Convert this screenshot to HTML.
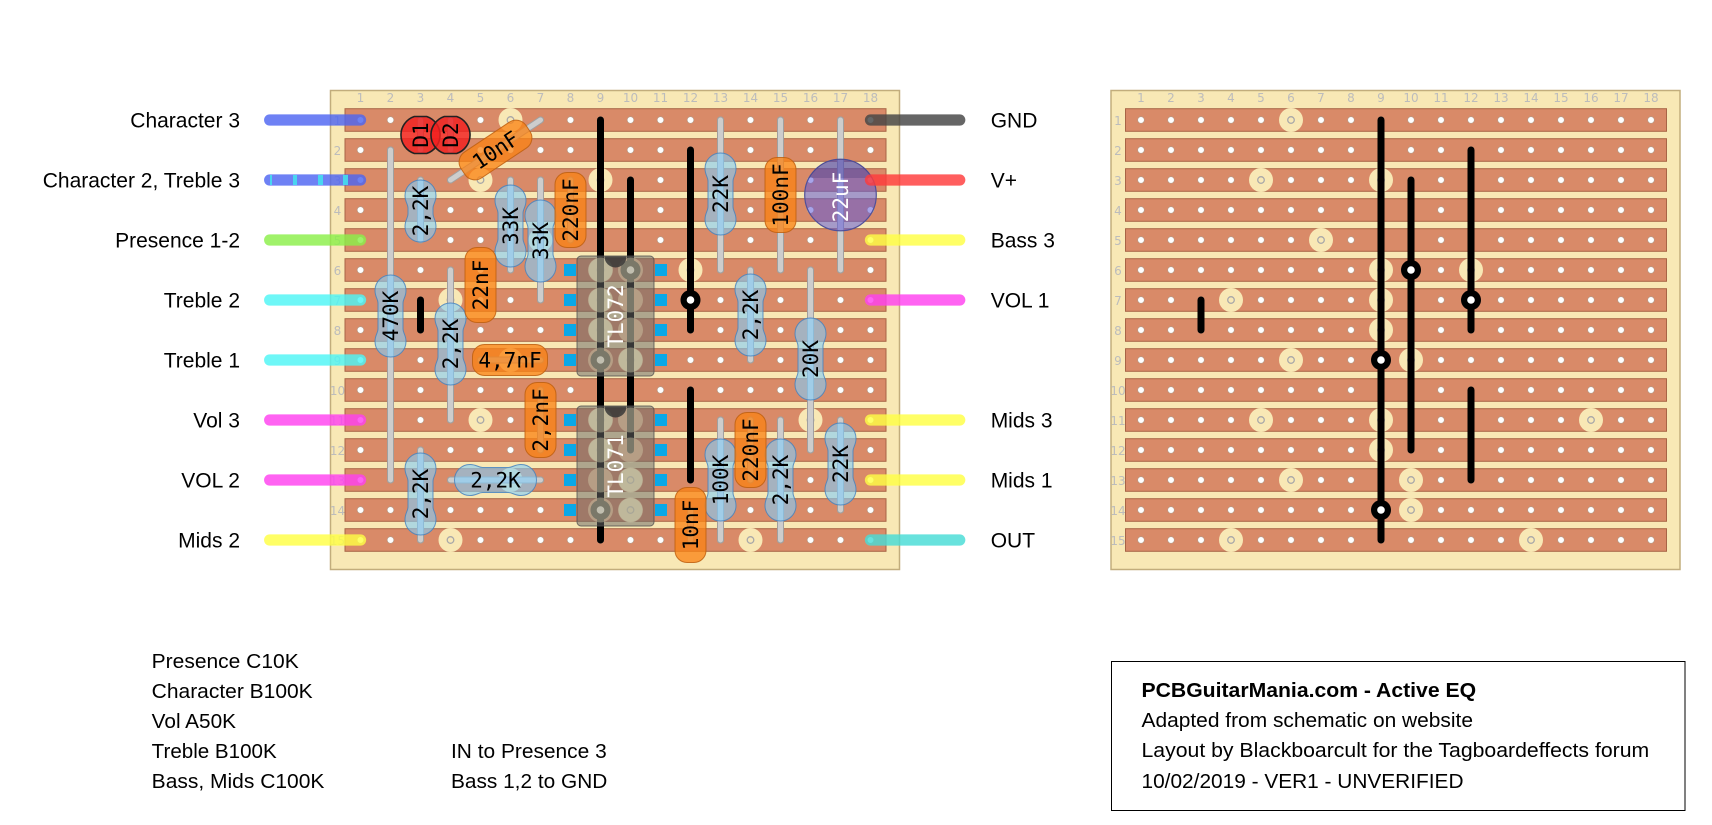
<!DOCTYPE html>
<html><head><meta charset="utf-8"><style>
html,body{margin:0;padding:0;background:#fff;}
svg{display:block;}
.cn{font-family:"DejaVu Sans",sans-serif;font-size:12px;fill:#bcbcbc;text-anchor:middle;}
.lb{font-family:"Liberation Sans",Arial,sans-serif;font-size:21px;fill:#000;}
.bt{font-family:"Liberation Sans",Arial,sans-serif;font-size:20px;fill:#000;}
.ct{font-family:"DejaVu Sans Mono",monospace;font-size:21px;fill:#000;text-anchor:middle;}
.wt{font-family:"DejaVu Sans Mono",monospace;font-size:21px;fill:#fff;text-anchor:middle;}
</style></head><body>
<svg width="1712" height="825" viewBox="0 0 1712 825" xmlns="http://www.w3.org/2000/svg">
<defs>
<pattern id="hp" x="345.5" y="105" width="30" height="30" patternUnits="userSpaceOnUse"><circle cx="15" cy="15" r="3.3" fill="#fff" stroke="#b09a88" stroke-width="0.6"/></pattern>
<path id="r41" fill="rgba(130,205,250,0.6)" stroke="rgba(70,130,190,0.85)" stroke-width="1" d="M0,-41 A15.5,15.5 0 0 1 15.5,-25.5 C15.5,-19 12.5,-17 12.5,-13 L12.5,13 C12.5,17 15.5,19 15.5,25.5 A15.5,15.5 0 0 1 -15.5,25.5 C-15.5,19 -12.5,17 -12.5,13 L-12.5,-13 C-12.5,-17 -15.5,-19 -15.5,-25.5 A15.5,15.5 0 0 1 0,-41 Z"/>
<path id="r31" fill="rgba(130,205,250,0.6)" stroke="rgba(70,130,190,0.85)" stroke-width="1" d="M0,-31 A15.5,15.5 0 0 1 15.5,-15.5 C15.5,-9 12.5,-7 12.5,-3 L12.5,3 C12.5,7 15.5,9 15.5,15.5 A15.5,15.5 0 0 1 -15.5,15.5 C-15.5,9 -12.5,7 -12.5,3 L-12.5,-3 C-12.5,-7 -15.5,-9 -15.5,-15.5 A15.5,15.5 0 0 1 0,-31 Z"/>
<path id="dio" fill="rgba(242,30,30,0.82)" stroke="#222" stroke-width="1.6" d="M-6.2,-18.5 L6.2,-18.5 A19.5,19.5 0 0 1 6.2,18.5 L-6.2,18.5 A19.5,19.5 0 0 1 -6.2,-18.5Z"/>
<clipPath id="ecl"><circle cx="840.5" cy="195" r="35.8"/></clipPath>
</defs>

<g id="base">
<rect x="330.5" y="90.5" width="569" height="479" fill="#f8e8b5" stroke="#c2ad7c" stroke-width="1.5"/>
<g class="cn">
<text x="360.5" y="102">1</text><text x="390.5" y="102">2</text><text x="420.5" y="102">3</text><text x="450.5" y="102">4</text><text x="480.5" y="102">5</text><text x="510.5" y="102">6</text><text x="540.5" y="102">7</text><text x="570.5" y="102">8</text><text x="600.5" y="102">9</text><text x="630.5" y="102">10</text><text x="660.5" y="102">11</text><text x="690.5" y="102">12</text><text x="720.5" y="102">13</text><text x="750.5" y="102">14</text><text x="780.5" y="102">15</text><text x="810.5" y="102">16</text><text x="840.5" y="102">17</text><text x="870.5" y="102">18</text>
<text x="337.5" y="125">1</text><text x="337.5" y="155">2</text><text x="337.5" y="185">3</text><text x="337.5" y="215">4</text><text x="337.5" y="245">5</text><text x="337.5" y="275">6</text><text x="337.5" y="305">7</text><text x="337.5" y="335">8</text><text x="337.5" y="365">9</text><text x="337.5" y="395">10</text><text x="337.5" y="425">11</text><text x="337.5" y="455">12</text><text x="337.5" y="485">13</text><text x="337.5" y="515">14</text><text x="337.5" y="545">15</text>
</g>
<g fill="#d98a68" stroke="#a86446" stroke-width="1">
<rect x="345" y="108.7" width="541" height="22.6"/><rect x="345" y="138.7" width="541" height="22.6"/><rect x="345" y="168.7" width="541" height="22.6"/><rect x="345" y="198.7" width="541" height="22.6"/><rect x="345" y="228.7" width="541" height="22.6"/><rect x="345" y="258.7" width="541" height="22.6"/><rect x="345" y="288.7" width="541" height="22.6"/><rect x="345" y="318.7" width="541" height="22.6"/><rect x="345" y="348.7" width="541" height="22.6"/><rect x="345" y="378.7" width="541" height="22.6"/><rect x="345" y="408.7" width="541" height="22.6"/><rect x="345" y="438.7" width="541" height="22.6"/><rect x="345" y="468.7" width="541" height="22.6"/><rect x="345" y="498.7" width="541" height="22.6"/><rect x="345" y="528.7" width="541" height="22.6"/>
</g>
<rect x="345.5" y="105" width="540" height="450" fill="url(#hp)"/>
<g fill="#f8e8b5">
<circle cx="510.5" cy="120" r="12"/><circle cx="480.5" cy="180" r="12"/><circle cx="600.5" cy="180" r="12"/><circle cx="540.5" cy="240" r="12"/><circle cx="600.5" cy="270" r="12"/><circle cx="690.5" cy="270" r="12"/><circle cx="450.5" cy="300" r="12"/><circle cx="600.5" cy="300" r="12"/><circle cx="600.5" cy="330" r="12"/><circle cx="510.5" cy="360" r="12"/><circle cx="630.5" cy="360" r="12"/><circle cx="480.5" cy="420" r="12"/><circle cx="600.5" cy="420" r="12"/><circle cx="810.5" cy="420" r="12"/><circle cx="600.5" cy="450" r="12"/><circle cx="510.5" cy="480" r="12"/><circle cx="630.5" cy="480" r="12"/><circle cx="630.5" cy="510" r="12"/><circle cx="450.5" cy="540" r="12"/><circle cx="750.5" cy="540" r="12"/>
</g>
<g fill="#f8e8b5" stroke="#a8a8a8" stroke-width="1.3">
<circle cx="510.5" cy="120" r="3.3"/><circle cx="480.5" cy="180" r="3.3"/><circle cx="600.5" cy="180" r="3.3"/><circle cx="540.5" cy="240" r="3.3"/><circle cx="600.5" cy="270" r="3.3"/><circle cx="690.5" cy="270" r="3.3"/><circle cx="450.5" cy="300" r="3.3"/><circle cx="600.5" cy="300" r="3.3"/><circle cx="600.5" cy="330" r="3.3"/><circle cx="510.5" cy="360" r="3.3"/><circle cx="630.5" cy="360" r="3.3"/><circle cx="480.5" cy="420" r="3.3"/><circle cx="600.5" cy="420" r="3.3"/><circle cx="810.5" cy="420" r="3.3"/><circle cx="600.5" cy="450" r="3.3"/><circle cx="510.5" cy="480" r="3.3"/><circle cx="630.5" cy="480" r="3.3"/><circle cx="630.5" cy="510" r="3.3"/><circle cx="450.5" cy="540" r="3.3"/><circle cx="750.5" cy="540" r="3.3"/>
</g>
<g stroke="#000" stroke-width="7" stroke-linecap="round">
<line x1="600.5" y1="120" x2="600.5" y2="540"/>
<line x1="630.5" y1="180" x2="630.5" y2="450"/>
<line x1="690.5" y1="150" x2="690.5" y2="330"/>
<line x1="420.5" y1="300" x2="420.5" y2="330"/>
<line x1="690.5" y1="390" x2="690.5" y2="480"/>
</g>
<g fill="#000"><circle cx="600.5" cy="360" r="10"/><circle cx="600.5" cy="510" r="10"/><circle cx="630.5" cy="270" r="10"/><circle cx="690.5" cy="300" r="10"/></g>
<g fill="#fff"><circle cx="600.5" cy="360" r="3.8"/><circle cx="600.5" cy="510" r="3.8"/><circle cx="630.5" cy="270" r="3.8"/><circle cx="690.5" cy="300" r="3.8"/></g>
</g>
<use href="#base" x="780.5" y="0"/>

<!-- leads -->
<g stroke="#a0a0a0" stroke-width="7" stroke-linecap="round">
<line x1="420.5" y1="180" x2="420.5" y2="240"/><line x1="510.5" y1="180" x2="510.5" y2="270"/><line x1="540.5" y1="180" x2="540.5" y2="300"/><line x1="390.5" y1="150" x2="390.5" y2="480"/><line x1="450.5" y1="270" x2="450.5" y2="420"/><line x1="420.5" y1="450" x2="420.5" y2="540"/><line x1="450.5" y1="480" x2="540.5" y2="480"/><line x1="720.5" y1="120" x2="720.5" y2="270"/><line x1="750.5" y1="270" x2="750.5" y2="360"/><line x1="810.5" y1="270" x2="810.5" y2="450"/><line x1="720.5" y1="420" x2="720.5" y2="540"/><line x1="780.5" y1="420" x2="780.5" y2="540"/><line x1="840.5" y1="420" x2="840.5" y2="510"/>
<line x1="570.5" y1="180" x2="570.5" y2="240"/><line x1="480.5" y1="360" x2="540.5" y2="360"/><line x1="540.5" y1="390" x2="540.5" y2="450"/><line x1="780.5" y1="120" x2="780.5" y2="270"/><line x1="750.5" y1="420" x2="750.5" y2="480"/><line x1="690.5" y1="510" x2="690.5" y2="540"/><line x1="540.5" y1="120" x2="450.5" y2="180"/><line x1="840.5" y1="120" x2="840.5" y2="270"/><line x1="420.5" y1="120" x2="420.5" y2="150"/><line x1="450.5" y1="120" x2="450.5" y2="150"/>
</g>
<g stroke="#cdcdcd" stroke-width="5" stroke-linecap="round">
<line x1="420.5" y1="180" x2="420.5" y2="240"/><line x1="510.5" y1="180" x2="510.5" y2="270"/><line x1="540.5" y1="180" x2="540.5" y2="300"/><line x1="390.5" y1="150" x2="390.5" y2="480"/><line x1="450.5" y1="270" x2="450.5" y2="420"/><line x1="420.5" y1="450" x2="420.5" y2="540"/><line x1="450.5" y1="480" x2="540.5" y2="480"/><line x1="720.5" y1="120" x2="720.5" y2="270"/><line x1="750.5" y1="270" x2="750.5" y2="360"/><line x1="810.5" y1="270" x2="810.5" y2="450"/><line x1="720.5" y1="420" x2="720.5" y2="540"/><line x1="780.5" y1="420" x2="780.5" y2="540"/><line x1="840.5" y1="420" x2="840.5" y2="510"/>
<line x1="570.5" y1="180" x2="570.5" y2="240"/><line x1="480.5" y1="360" x2="540.5" y2="360"/><line x1="540.5" y1="390" x2="540.5" y2="450"/><line x1="780.5" y1="120" x2="780.5" y2="270"/><line x1="750.5" y1="420" x2="750.5" y2="480"/><line x1="690.5" y1="510" x2="690.5" y2="540"/><line x1="540.5" y1="120" x2="450.5" y2="180"/><line x1="840.5" y1="120" x2="840.5" y2="270"/><line x1="420.5" y1="120" x2="420.5" y2="150"/><line x1="450.5" y1="120" x2="450.5" y2="150"/>
</g>

<!-- diodes -->
<use href="#dio" x="420.5" y="135"/>
<use href="#dio" x="450.5" y="135"/>
<text class="ct" transform="translate(420.5,135) rotate(-90)" y="7.5">D1</text>
<text class="ct" transform="translate(450.5,135) rotate(-90)" y="7.5">D2</text>

<!-- resistors -->
<use href="#r31" x="420.5" y="211"/>
<use href="#r41" x="510.5" y="226"/>
<use href="#r41" x="540.5" y="241"/>
<use href="#r41" x="390.5" y="316"/>
<use href="#r41" x="450.5" y="344"/>
<use href="#r41" x="420.5" y="494"/>
<use href="#r41" transform="translate(495.5,480) rotate(90)"/>
<use href="#r41" x="720.5" y="194"/>
<use href="#r41" x="750.5" y="315"/>
<use href="#r41" x="810.5" y="359"/>
<use href="#r41" x="720.5" y="480"/>
<use href="#r41" x="780.5" y="480"/>
<use href="#r41" x="840.5" y="464"/>
<text class="ct" transform="translate(420.5,211) rotate(-90)" y="7.5">2,2K</text>
<text class="ct" transform="translate(510.5,226) rotate(-90)" y="7.5">33K</text>
<text class="ct" transform="translate(540.5,241) rotate(-90)" y="7.5">33K</text>
<text class="ct" transform="translate(390.5,316) rotate(-90)" y="7.5">470K</text>
<text class="ct" transform="translate(450.5,344) rotate(-90)" y="7.5">2,2K</text>
<text class="ct" transform="translate(420.5,494) rotate(-90)" y="7.5">2,2K</text>
<text class="ct" x="495.5" y="487.5">2,2K</text>
<text class="ct" transform="translate(720.5,194) rotate(-90)" y="7.5">22K</text>
<text class="ct" transform="translate(750.5,315) rotate(-90)" y="7.5">2,2K</text>
<text class="ct" transform="translate(810.5,359) rotate(-90)" y="7.5">20K</text>
<text class="ct" transform="translate(720.5,480) rotate(-90)" y="7.5">100K</text>
<text class="ct" transform="translate(780.5,480) rotate(-90)" y="7.5">2,2K</text>
<text class="ct" transform="translate(840.5,464) rotate(-90)" y="7.5">22K</text>

<!-- film caps -->
<g fill="rgba(250,130,20,0.76)" stroke="rgba(190,95,15,0.85)" stroke-width="1">
<rect x="555" y="172.5" width="31" height="75" rx="12"/>
<rect x="465" y="247.5" width="31" height="75" rx="12"/>
<rect x="472.5" y="344.5" width="75" height="31" rx="12"/>
<rect x="525" y="382.5" width="31" height="75" rx="12"/>
<rect x="765" y="157.5" width="31" height="75" rx="12"/>
<rect x="735" y="412.5" width="31" height="75" rx="12"/>
<rect x="675" y="487.5" width="31" height="75" rx="12"/>
<rect transform="translate(495.5,150) rotate(-33.7)" x="-39" y="-15.5" width="78" height="31" rx="12"/>
</g>
<text class="ct" transform="translate(570.5,210) rotate(-90)" y="7.5">220nF</text>
<text class="ct" transform="translate(480.5,285) rotate(-90)" y="7.5">22nF</text>
<text class="ct" x="510" y="367.5">4,7nF</text>
<text class="ct" transform="translate(540.5,420) rotate(-90)" y="7.5">2,2nF</text>
<text class="ct" transform="translate(780.5,195) rotate(-90)" y="7.5">100nF</text>
<text class="ct" transform="translate(750.5,450) rotate(-90)" y="7.5">220nF</text>
<text class="ct" transform="translate(690.5,525) rotate(-90)" y="7.5">10nF</text>
<text class="ct" transform="translate(495.5,150) rotate(-33.7)" y="7.5">10nF</text>

<!-- electrolytic -->
<circle cx="840.5" cy="195" r="35.8" fill="rgba(100,92,215,0.56)" stroke="#50509a" stroke-width="1.2"/>
<rect x="800" y="155" width="82" height="23" fill="rgba(40,30,100,0.22)" clip-path="url(#ecl)"/>
<text class="wt" transform="translate(840.5,197) rotate(-90)" y="7.5">22uF</text>

<!-- ICs -->
<g fill="#0aa8e8">
<rect x="564" y="264" width="12" height="12"/><rect x="564" y="294" width="12" height="12"/><rect x="564" y="324" width="12" height="12"/><rect x="564" y="354" width="12" height="12"/>
<rect x="655" y="264" width="12" height="12"/><rect x="655" y="294" width="12" height="12"/><rect x="655" y="324" width="12" height="12"/><rect x="655" y="354" width="12" height="12"/>
<rect x="564" y="414" width="12" height="12"/><rect x="564" y="444" width="12" height="12"/><rect x="564" y="474" width="12" height="12"/><rect x="564" y="504" width="12" height="12"/>
<rect x="655" y="414" width="12" height="12"/><rect x="655" y="444" width="12" height="12"/><rect x="655" y="474" width="12" height="12"/><rect x="655" y="504" width="12" height="12"/>
</g>
<g fill="rgba(105,105,105,0.52)" stroke="rgba(80,80,80,0.8)" stroke-width="1">
<rect x="577" y="256" width="77" height="120" rx="4"/>
<rect x="577" y="406" width="77" height="120" rx="4"/>
</g>
<g fill="rgba(215,210,175,0.42)">
<circle cx="600.5" cy="270" r="12.5"/><circle cx="600.5" cy="300" r="12.5"/><circle cx="600.5" cy="330" r="12.5"/><circle cx="600.5" cy="360" r="12.5"/>
<circle cx="630.5" cy="270" r="12.5"/><circle cx="630.5" cy="300" r="12.5"/><circle cx="630.5" cy="330" r="12.5"/><circle cx="630.5" cy="360" r="12.5"/>
<circle cx="600.5" cy="420" r="12.5"/><circle cx="600.5" cy="450" r="12.5"/><circle cx="600.5" cy="480" r="12.5"/><circle cx="600.5" cy="510" r="12.5"/>
<circle cx="630.5" cy="420" r="12.5"/><circle cx="630.5" cy="450" r="12.5"/><circle cx="630.5" cy="480" r="12.5"/><circle cx="630.5" cy="510" r="12.5"/>
</g>
<g fill="rgba(55,55,55,0.85)">
<path d="M604.5,256.5 A11,11 0 0 0 626.5,256.5 Z"/>
<path d="M604.5,406.5 A11,11 0 0 0 626.5,406.5 Z"/>
</g>
<text class="wt" transform="translate(615.5,316) rotate(-90)" y="7.5">TL072</text>
<text class="wt" transform="translate(615.5,466) rotate(-90)" y="7.5">TL071</text>

<!-- wires -->
<g stroke-width="11.3" stroke-linecap="round" opacity="0.82">
<line x1="269.7" y1="120" x2="360.5" y2="120" stroke="#4f66f2"/>
<line x1="269.7" y1="180" x2="360.5" y2="180" stroke="#4f66f2"/>
<line x1="269.7" y1="240" x2="360.5" y2="240" stroke="#8cf04a"/>
<line x1="269.7" y1="300" x2="360.5" y2="300" stroke="#4ff6f6"/>
<line x1="269.7" y1="360" x2="360.5" y2="360" stroke="#4ff6f6"/>
<line x1="269.7" y1="420" x2="360.5" y2="420" stroke="#ff42f0"/>
<line x1="269.7" y1="480" x2="360.5" y2="480" stroke="#ff42f0"/>
<line x1="269.7" y1="540" x2="360.5" y2="540" stroke="#ffff45"/>
<line x1="870.5" y1="120" x2="959.7" y2="120" stroke="#454545"/>
<line x1="870.5" y1="180" x2="959.7" y2="180" stroke="#ff3b3b"/>
<line x1="870.5" y1="240" x2="959.7" y2="240" stroke="#ffff45"/>
<line x1="870.5" y1="300" x2="959.7" y2="300" stroke="#ff42f0"/>
<line x1="870.5" y1="420" x2="959.7" y2="420" stroke="#ffff45"/>
<line x1="870.5" y1="480" x2="959.7" y2="480" stroke="#ffff45"/>
<line x1="870.5" y1="540" x2="959.7" y2="540" stroke="#48dcd6"/>
</g>
<g fill="#45dff0" opacity="0.9">
<rect x="270" y="175" width="2" height="10"/><rect x="293" y="175" width="4" height="10"/><rect x="318" y="175" width="5" height="10"/><rect x="343" y="175" width="5" height="10"/>
</g>

<!-- labels -->
<g class="lb" text-anchor="end">
<text x="240" y="127.5">Character 3</text>
<text x="240" y="187.5">Character 2, Treble 3</text>
<text x="240" y="247.5">Presence 1-2</text>
<text x="240" y="307.5">Treble 2</text>
<text x="240" y="367.5">Treble 1</text>
<text x="240" y="427.5">Vol 3</text>
<text x="240" y="487.5">VOL 2</text>
<text x="240" y="547.5">Mids 2</text>
</g>
<g class="lb">
<text x="990.7" y="127.5">GND</text>
<text x="990.7" y="187.5">V+</text>
<text x="990.7" y="247.5">Bass 3</text>
<text x="990.7" y="307.5">VOL 1</text>
<text x="990.7" y="427.5">Mids 3</text>
<text x="990.7" y="487.5">Mids 1</text>
<text x="990.7" y="547.5">OUT</text>
</g>

<!-- bottom text -->
<g class="bt">
<text x="151.7" y="668" textLength="147" lengthAdjust="spacingAndGlyphs">Presence C10K</text>
<text x="151.7" y="698" textLength="161" lengthAdjust="spacingAndGlyphs">Character B100K</text>
<text x="151.7" y="728" textLength="84.3" lengthAdjust="spacingAndGlyphs">Vol A50K</text>
<text x="151.7" y="758" textLength="125" lengthAdjust="spacingAndGlyphs">Treble B100K</text>
<text x="151.7" y="788" textLength="172.7" lengthAdjust="spacingAndGlyphs">Bass, Mids C100K</text>
<text x="451" y="758" textLength="155.7" lengthAdjust="spacingAndGlyphs">IN to Presence 3</text>
<text x="451" y="788" textLength="156.3" lengthAdjust="spacingAndGlyphs">Bass 1,2 to GND</text>
</g>
<rect x="1111.5" y="661.5" width="573.5" height="149" fill="none" stroke="#000" stroke-width="1"/>
<g class="bt">
<text x="1141.5" y="697" font-weight="bold" textLength="334.6" lengthAdjust="spacingAndGlyphs">PCBGuitarMania.com - Active EQ</text>
<text x="1141.5" y="727" textLength="331.5" lengthAdjust="spacingAndGlyphs">Adapted from schematic on website</text>
<text x="1141.5" y="757" textLength="507.7" lengthAdjust="spacingAndGlyphs">Layout by Blackboarcult for the Tagboardeffects forum</text>
<text x="1141.5" y="788" textLength="322" lengthAdjust="spacingAndGlyphs">10/02/2019 - VER1 - UNVERIFIED</text>
</g>
</svg>
</body></html>
